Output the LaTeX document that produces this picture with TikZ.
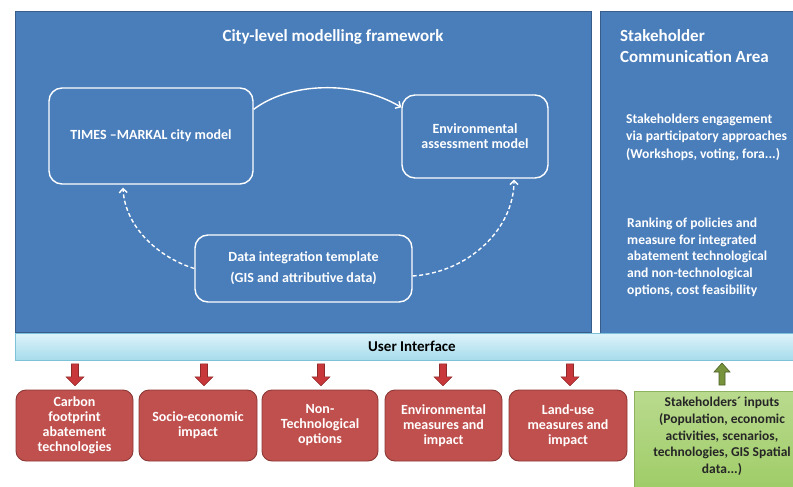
\documentclass[tikz,border=0pt]{standalone}
\usepackage{fontspec}
\setmainfont{Carlito}
\usetikzlibrary{arrows.meta,calc}
\definecolor{panelblue}{HTML}{4A7EBB}
\definecolor{paneledge}{HTML}{385D8A}
\definecolor{uitop}{HTML}{DDF3FA}
\definecolor{uibot}{HTML}{A6DBEC}
\definecolor{uiedge}{HTML}{7DC2D8}
\definecolor{boxred}{HTML}{C0504D}
\definecolor{boxredge}{HTML}{8C3836}
\definecolor{arrred}{HTML}{C8373A}
\definecolor{arrdark}{HTML}{8E2A2A}
\definecolor{greentop}{HTML}{B9DA8E}
\definecolor{greenbot}{HTML}{9CCB62}
\definecolor{greenedge}{HTML}{8DB35E}
\definecolor{arrgreen}{HTML}{77933C}
\definecolor{arrgreendark}{HTML}{4F6228}
\tikzset{
  panel/.style={draw=paneledge, fill=panelblue, line width=0.8pt, inner sep=0pt},
  innerbox/.style={draw=white, line width=1.4pt, rounded corners=13pt, inner sep=0pt, text=white, align=center, font=\fontsize{14}{15}\selectfont\bfseries},
  titletext/.style={text=white, font=\fontsize{17}{20}\selectfont\bfseries, inner sep=0pt},
  headtext/.style={text=white, font=\fontsize{17}{21}\selectfont\bfseries, inner sep=0pt, align=left},
  bodytext/.style={text=white, inner sep=0pt, align=left},
  uibar/.style={draw=uiedge, top color=uitop, bottom color=uibot, line width=0.8pt, inner sep=0pt},
  redbox/.style={draw=boxredge, fill=boxred, line width=0.9pt, rounded corners=10pt, minimum height=71pt, inner sep=0pt, text=white, align=center, font=\fontsize{14}{15}\selectfont\bfseries},
  greenbox/.style={draw=greenedge, top color=greentop, bottom color=greenbot, line width=0.8pt, inner sep=0pt},
  greentext/.style={text=black!85, align=center, inner sep=0pt, font=\fontsize{13.5}{16.7}\selectfont\bfseries},
  solidarrow/.style={draw=white, line width=1.4pt, -{Straight Barb[length=4pt,width=8pt]}},
  dasharrow/.style={draw=white, line width=1.4pt, dash pattern=on 4pt off 2.5pt, -{Straight Barb[length=4pt,width=8pt]}},
  downarr/.pic={\draw[fill=arrred, draw=arrdark, line width=0.6pt] (-3.5,0) -- (3.5,0) -- (3.5,13) -- (9,13) -- (0,22) -- (-9,13) -- (-3.5,13) -- cycle;},
  uparr/.pic={\draw[fill=arrgreen, draw=arrgreendark, line width=0.6pt] (-3,0) -- (3,0) -- (3,-13) -- (8,-13) -- (0,-22) -- (-8,-13) -- (-3,-13) -- cycle;}
}
\begin{document}
\begin{tikzpicture}[x=1pt,y=-1pt]
\useasboundingbox (0,0) rectangle (793,487);
\fill[white] (0,0) rectangle (793,487);

% panels
\node[panel, minimum width=576pt, minimum height=321pt, anchor=north west] (city) at (15,11) {};
\node[panel, minimum width=200pt, minimum height=322pt, anchor=north west] (stake) at (600,11) {};
\node[titletext] (title) at (333,37) {City-level modelling framework};
\node[headtext, anchor=west] (stakehead) at (620,46) {Stakeholder\\Communication Area};
\node[bodytext, anchor=west, font=\fontsize{13.6}{17.5}\selectfont\bfseries] (engage) at (626,137) {Stakeholders engagement\\via participatory approaches\\(Workshops, voting, fora...)};
\node[bodytext, anchor=west, font=\fontsize{13.6}{16.7}\selectfont\bfseries] (rank) at (627,257) {Ranking of policies and\\measure for integrated\\abatement technological\\and non-technological\\options, cost feasibility};

% inner model boxes
\node[innerbox, minimum width=204pt, minimum height=96pt] (times) at (151,136) {TIMES --MARKAL city model};
\node[innerbox, minimum width=146pt, minimum height=83pt] (env) at (475,136.5) {Environmental\\assessment model};
\node[innerbox, minimum width=217pt, minimum height=67pt, font=\fontsize{14}{21}\selectfont\bfseries] (data) at (303.5,268.5) {Data integration template\\(GIS and attributive data)};

% connectors
\draw[solidarrow] ([yshift=-22pt]times.north east) .. controls (290,82) and (355,80) .. ([yshift=-13pt]env.north west);
\draw[dasharrow] (data.west) .. controls (160,258) and (125,228) .. ([xshift=-28pt,yshift=-3pt]times.south);
\draw[dasharrow] ([yshift=-7.5pt]data.east) .. controls (470,272) and (514,228) .. ([xshift=39pt,yshift=-1pt]env.south);

% user interface
\node[uibar, minimum width=785pt, minimum height=27pt, anchor=north west] (ui) at (15,333) {};
\node[font=\fontsize{15}{17}\selectfont\bfseries, inner sep=0pt] (uitext) at (412,346.5) {User Interface};

% output boxes
\node[redbox, minimum width=117pt] (c1) at (74.5,425.5) {Carbon\\footprint\\abatement\\technologies};
\node[redbox, minimum width=118pt] (c2) at (198,425.5) {Socio-economic\\impact};
\node[redbox, minimum width=116pt] (c3) at (320,425.5) {Non-\\Technological\\options};
\node[redbox, minimum width=117pt] (c4) at (443.5,425.5) {Environmental\\measures and\\impact};
\node[redbox, minimum width=118pt] (c5) at (568,425.5) {Land-use\\measures and\\impact};

\node[greenbox, minimum width=166pt, minimum height=110pt, anchor=north west] (inputs) at (634,391) {};
\node[greentext] (inputstext) at (722,436.5) {Stakeholders´ inputs\\(Population, economic\\activities, scenarios,\\technologies, GIS Spatial\\data...)};

% block arrows
\pic at ($(ui.south -| 75,0)+(0,3)$) {downarr};
\pic at ($(ui.south -| 204,0)+(0,3)$) {downarr};
\pic at ($(ui.south -| 321,0)+(0,3)$) {downarr};
\pic at ($(ui.south -| 443,0)+(0,3)$) {downarr};
\pic at ($(ui.south -| 570,0)+(0,3)$) {downarr};
\pic at ($(inputs.north -| 722,0)+(0,-6)$) {uparr};
\end{tikzpicture}
\end{document}
